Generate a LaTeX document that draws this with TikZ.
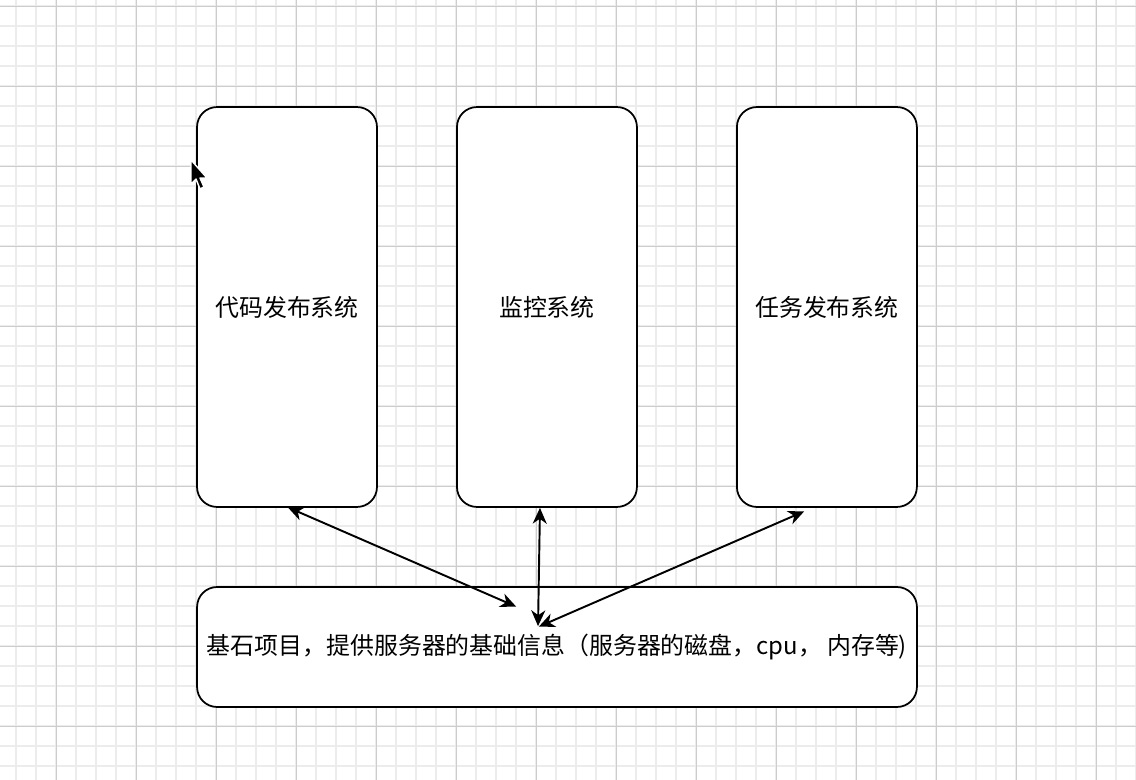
\documentclass[tikz,border=0pt]{standalone}
\usepackage{fontspec}
\setmainfont{Liberation Sans}
\newfontfamily\cjk{Noto Sans CJK SC}
\usetikzlibrary{positioning,arrows.meta,calc}
\definecolor{gridminor}{RGB}{236,236,236}
\definecolor{gridmajor}{RGB}{205,205,205}

\begin{document}
\begin{tikzpicture}[
    x=0.02cm, y=-0.02cm,
    sysbox/.style={rectangle, draw, rounded corners=0.4cm, line width=1pt, outer sep=0pt, minimum width=3.6cm, minimum height=8cm, align=center, fill=white, font=\cjk\fontsize{13.6}{16}\selectfont},
    basebox/.style={sysbox, minimum width=14.4cm, minimum height=2.4cm},
    link/.style={{Stealth[length=9pt,width=8pt,inset=2.8pt]}-{Stealth[length=9pt,width=8pt,inset=2.8pt]}, line width=1.1pt, shorten <=0.5pt, shorten >=0.5pt},
]
    \useasboundingbox (0,0) rectangle (1136,780);
    \fill[white] (0,0) rectangle (1136,780);

    % Grid
    \foreach \x in {16,36,...,1136} \draw[gridminor, line width=0.7pt] (\x,0) -- (\x,780);
    \foreach \y in {6,26,...,780} \draw[gridminor, line width=0.7pt] (0,\y) -- (1136,\y);
    \foreach \x in {56,136,...,1136} \draw[gridmajor, line width=0.5pt] (\x,0) -- (\x,780);
    \foreach \y in {6,86,...,780} \draw[gridmajor, line width=0.5pt] (0,\y) -- (1136,\y);

    % Systems
    \node[sysbox] (deploy) at (287,307) {代码发布系统};
    \node[sysbox, right=1.6cm of deploy] (monitor) {监控系统};
    \node[sysbox, right=2cm of monitor] (task) {任务发布系统};

    % Base project
    \node[basebox] (base) at (557,647) {基石项目，提供服务器的基础信息（服务器的磁盘，cpu， 内存等)};

    % Links
    \coordinate (monitorport) at (540,507);
    \coordinate (taskport) at (805,511);
    \coordinate (basehitA) at (517,607);
    \coordinate (basehitB) at (538,627);
    \draw[link] (deploy.south) -- (basehitA);
    \draw[link] (monitorport) -- (basehitB);
    \draw[link] (taskport) -- (basehitB);

    % Pointer
    \filldraw[fill=black, draw=white, line width=0.8pt, line join=round]
        (191,160) -- (191,184) -- (196,179) -- (200,189) -- (204,187) -- (200,178) -- (207,178) -- cycle;
\end{tikzpicture}
\end{document}
